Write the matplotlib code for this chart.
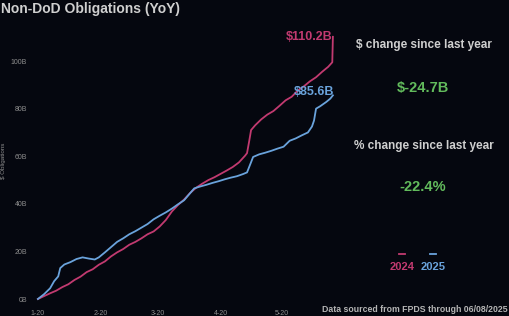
import matplotlib
matplotlib.use("Agg")
import matplotlib.pyplot as plt
from matplotlib.lines import Line2D

# ---- data (days since Jan 20, cumulative obligations in $B) ----
days_2024 = [0, 3, 6, 9, 12, 15, 18, 21, 24, 27, 30, 33, 36, 39, 42, 45, 48, 51, 54, 57,
             60, 63, 66, 69, 72, 75, 78, 81, 84, 87, 90, 93, 96, 99, 102, 103, 104, 105,
             107, 110, 113, 116, 119, 122, 125, 128, 131, 134, 137, 140, 143, 145, 145.3]
vals_2024 = [0, 1.2, 2.4, 3.5, 5.0, 6.2, 8.0, 9.4, 11.3, 12.5, 14.4, 15.8, 17.9, 19.6, 21.0,
             22.8, 24.0, 25.5, 27.2, 28.4, 30.5, 33.2, 36.8, 39.5, 41.8, 44.6, 46.8, 48.5,
             50.0, 51.2, 52.6, 54.0, 55.5, 57.4, 60.2, 61.3, 66.0, 71.0, 73.0, 75.5, 77.5,
             79.0, 81.2, 83.5, 85.0, 87.6, 89.4, 91.5, 93.2, 95.5, 97.6, 99.5, 110.2]

days_2025 = [0, 3, 6, 8, 10, 11, 13, 16, 19, 22, 25, 28, 30, 33, 36, 39, 42, 45, 48, 51,
             54, 57, 60, 63, 66, 69, 72, 75, 77, 80, 83, 86, 89, 92, 95, 98, 101, 103, 105,
             106, 109, 112, 115, 118, 121, 124, 127, 130, 133, 135, 136, 137, 139, 142, 144, 145.3]
vals_2025 = [0, 2.0, 4.5, 7.5, 9.5, 13.0, 14.5, 15.5, 16.8, 17.5, 17.0, 16.6, 17.5, 19.6,
             21.8, 24.0, 25.5, 27.2, 28.5, 30.0, 31.5, 33.5, 35.0, 36.4, 38.0, 39.8, 41.5,
             44.5, 46.5, 47.3, 48.0, 48.8, 49.5, 50.3, 51.0, 51.6, 52.5, 53.2, 57.5, 59.7,
             60.8, 61.5, 62.3, 63.2, 64.0, 66.5, 67.5, 68.8, 70.0, 72.5, 75.0, 80.0, 81.0,
             82.8, 84.2, 85.6]

x_ticks = [0, 31, 59, 90, 120]
x_tick_labels = ["1-20", "2-20", "3-20", "4-20", "5-20"]
y_ticks = [0, 20, 40, 60, 80, 100]
y_tick_labels = ["0B", "20B", "40B", "60B", "80B", "100B"]

final_2024 = "$110.2B"
final_2025 = "$85.6B"
dollar_change = "$-24.7B"
pct_change = "-22.4%"

# ---- styling ----
BG = "#05070f"
PINK = "#c23a70"
BLUE = "#6aa3dc"
GREEN = "#62bb5c"
TXT = "#cfcfcf"
TICK = "#8e8e8e"
plt.rcParams['font.family'] = ['Liberation Sans', 'DejaVu Sans']

W, H = 510, 316
fig = plt.figure(figsize=(W / 100, H / 100), dpi=100, facecolor=BG)

ax_l, ax_r, ax_t, ax_b = 30, 340, 28, 302
ax = fig.add_axes([ax_l / W, 1 - ax_b / H, (ax_r - ax_l) / W, (ax_b - ax_t) / H])
ax.set_facecolor(BG)

ax.plot(days_2024, vals_2024, color=PINK, lw=1.3)
ax.plot(days_2025, vals_2025, color=BLUE, lw=1.3)

ax.set_xlim(-3.9, 148.8)
ax.set_ylim(-1.26, 113.9)
for s in ax.spines.values():
    s.set_visible(False)
ax.set_xticks(x_ticks)
ax.set_xticklabels(x_tick_labels)
ax.set_yticks(y_ticks)
ax.set_yticklabels(y_tick_labels)
ax.tick_params(axis='both', length=0, colors=TICK, labelsize=5)
ax.tick_params(axis='x', pad=6)
ax.tick_params(axis='y', pad=2)
ax.set_ylabel("$ Obligations", color=TICK, fontsize=4.5)
ax.yaxis.set_label_coords((6 - ax_l) / (ax_r - ax_l), (ax_b - 161) / (ax_b - ax_t))

ax.text(days_2024[-1], vals_2024[-1], final_2024, color=PINK, fontsize=9, fontweight='bold',
        ha='right', va='center')
ax.text(days_2025[-1] + 0.5, vals_2025[-1] + 1.5, final_2025, color=BLUE, fontsize=9,
        fontweight='bold', ha='right', va='center')

# title
fig.text(1 / W, 1 - 9 / H, "Non-DoD Obligations (YoY)", color=TXT, fontsize=10,
         fontweight='bold', ha='left', va='center')

# right panel
fig.text(424 / W, 1 - 45 / H, "$ change since last year", color=TXT, fontsize=8.5,
         fontweight='bold', ha='center', va='center')
fig.text(423 / W, 1 - 88 / H, dollar_change, color=GREEN, fontsize=10.5,
         fontweight='bold', ha='center', va='center')
fig.text(424 / W, 1 - 146 / H, "% change since last year", color=TXT, fontsize=8.5,
         fontweight='bold', ha='center', va='center')
fig.text(423 / W, 1 - 187 / H, pct_change, color=GREEN, fontsize=10.5,
         fontweight='bold', ha='center', va='center')

# legend
for xc, col, lab in [(402, PINK, "2024"), (433, BLUE, "2025")]:
    fig.add_artist(Line2D([(xc - 3) / W, (xc + 3) / W], [1 - 254 / H, 1 - 254 / H],
                          color=col, lw=1.3, transform=fig.transFigure))
    fig.text(xc / W, 1 - 267 / H, lab, color=col, fontsize=8, fontweight='bold',
             ha='center', va='center')

fig.text(508 / W, 1 - 310 / H, "Data sourced from FPDS through 06/08/2025", color="#b5b5b5",
         fontsize=6.3, fontweight='bold', ha='right', va='center')

fig.savefig("out.png", dpi=100, facecolor=BG)
